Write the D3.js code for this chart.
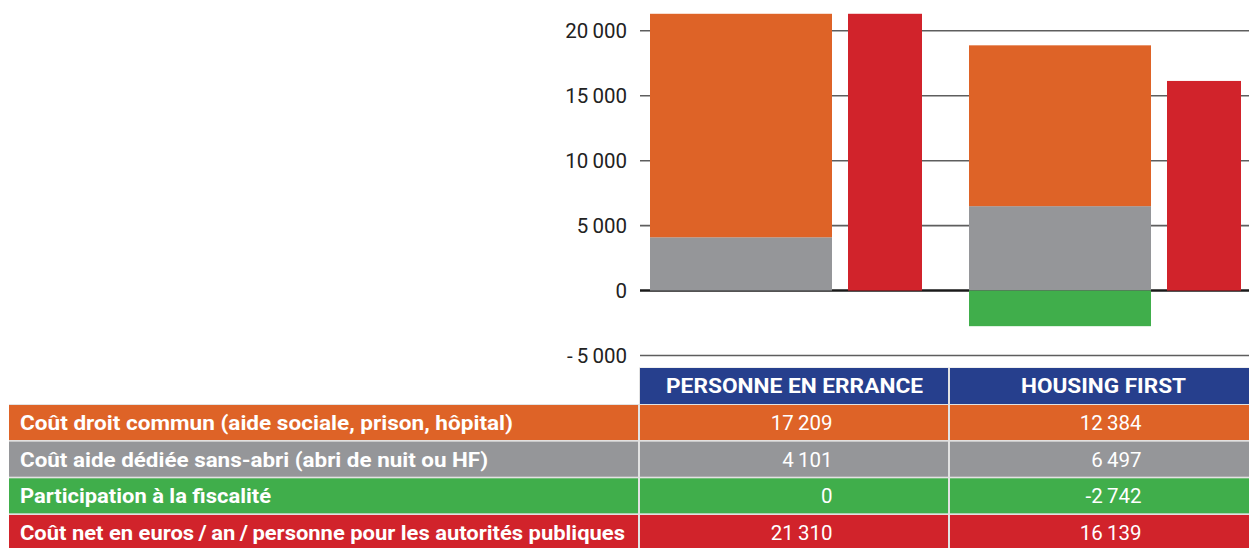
<!DOCTYPE html>
<html>
<meta charset="utf-8">
<head>
<style>
body { margin:0; padding:0; background:#fff; }
svg { display:block; }
text { font-family: Roboto, "Noto Sans", sans-serif; }
.lbl { fill:#fff; font-weight:bold; font-size:20.5px; }
.num { fill:#fff; font-size:20.5px; }
.tick { fill:#222; font-size:20.5px; }
</style>
</head>
<body>
<svg></svg>
<script src="https://d3js.org/d3.v7.min.js"></script>
<script>

// data
var groups = ["PERSONNE EN ERRANCE", "HOUSING FIRST"];
var rowLabels = [
  "Coût droit commun (aide sociale, prison, hôpital)",
  "Coût aide dédiée sans-abri (abri de nuit ou HF)",
  "Participation à la fiscalité",
  "Coût net en euros\u2009/\u2009an\u2009/\u2009personne pour les autorités publiques"
];
var droitCommun = [17209, 12384];
var aideDediee  = [4101, 6497];
var fiscalite   = [0, -2742];
var coutNet     = [21310, 16139];
var yTicks = [-5000, 0, 5000, 10000, 15000, 20000];

var colors = ["#de6327", "#959699", "#40ae4b", "#d1232b"];
var navy = "#263f8d";

var width = 1249, height = 548;
var svg = d3.select("svg").attr("width", width).attr("height", height);

var fr = d3.formatLocale({decimal: ",", thousands: "\u2009", grouping: [3], currency: ["", " €"], minus: "-"});
var fmt = fr.format(",d");

var y = d3.scaleLinear().domain([-5000, 20000]).range([355.5, 30.8]);
var x0 = d3.scaleBand().domain(groups).range([650, 1288]);
var tx = d3.scaleBand().domain(groups).range([640, 1258]);

// grid
svg.append("g").selectAll("line").data(yTicks).enter().append("line")
  .attr("x1", 640).attr("x2", width)
  .attr("y1", function(d) { return y(d); }).attr("y2", function(d) { return y(d); })
  .attr("stroke", function(d) { return d === 0 ? "#1a1a1a" : "#5e5e5e"; })
  .attr("stroke-width", function(d) { return d === 0 ? 2.5 : 1.6; });

svg.append("g").selectAll("text").data(yTicks).enter().append("text")
  .attr("class", "tick")
  .attr("x", 627).attr("y", function(d) { return y(d); })
  .attr("dy", "0.36em").attr("text-anchor", "end")
  .text(function(d) { return d < 0 ? "-\u2009" + fmt(-d) : fmt(d); });

// bars
var stackW = 182, netOff = 198, netW = 74;
var segs = [];
groups.forEach(function(g, i) {
  segs.push({g: g, y0: 0, y1: aideDediee[i], c: colors[1], x: x0(g), w: stackW});
  segs.push({g: g, y0: aideDediee[i], y1: aideDediee[i] + droitCommun[i], c: colors[0], x: x0(g), w: stackW});
  if (fiscalite[i] !== 0) segs.push({g: g, y0: fiscalite[i], y1: 0, c: colors[2], x: x0(g), w: stackW});
  segs.push({g: g, y0: 0, y1: coutNet[i], c: colors[3], x: x0(g) + netOff, w: netW});
});

svg.append("g").selectAll("rect").data(segs).enter().append("rect")
  .attr("x", function(d) { return d.x; })
  .attr("width", function(d) { return d.w; })
  .attr("y", function(d) { return y(d.y1); })
  .attr("height", function(d) { return y(d.y0) - y(d.y1); })
  .attr("fill", function(d) { return d.c; });

// table
var rowY = d3.scaleBand().domain(rowLabels).range([405, 550]).paddingInner(0.045).paddingOuter(0);
var headY = 368, headH = 36;
var gap = "#e2e2e2";

svg.append("rect").attr("x", 639).attr("y", headY - 0.5).attr("width", width - 639).attr("height", headH + 1).attr("fill", gap);
svg.append("rect").attr("x", 9).attr("y", 404).attr("width", width - 9).attr("height", height - 404).attr("fill", gap);

svg.append("g").selectAll("rect").data(groups).enter().append("rect")
  .attr("x", function(d, i) { return tx(d) + (i === 0 ? 0 : 1); })
  .attr("width", function(d) { return tx.bandwidth() - 1; })
  .attr("y", headY).attr("height", headH)
  .attr("fill", navy);

var headTextW = [257, 165];
svg.append("g").selectAll("text").data(groups).enter().append("text")
  .attr("class", "lbl")
  .attr("x", function(d) { return tx(d) + tx.bandwidth() / 2; })
  .attr("y", headY + headH / 2).attr("dy", "0.36em")
  .attr("text-anchor", "middle")
  .attr("textLength", function(d, i) { return headTextW[i]; })
  .attr("lengthAdjust", "spacingAndGlyphs")
  .text(function(d) { return d; });

var rows = rowLabels.map(function(l, i) {
  return {label: l, color: colors[i], vals: [droitCommun, aideDediee, fiscalite, coutNet][i]};
});
var labelW = [493, 468, 251, 605];

var row = svg.append("g").selectAll("g").data(rows).enter().append("g")
  .attr("transform", function(d) { return "translate(0," + rowY(d.label) + ")"; });

row.append("rect")
  .attr("x", 9).attr("width", 629)
  .attr("height", rowY.bandwidth())
  .attr("fill", function(d) { return d.color; });

row.selectAll("rect.cell").data(function(d) { return groups.map(function(g, i) { return {g: g, i: i, c: d.color}; }); })
  .enter().append("rect").attr("class", "cell")
  .attr("x", function(d) { return tx(d.g) + (d.i === 0 ? 0 : 1); })
  .attr("width", function(d) { return tx.bandwidth() - 1; })
  .attr("height", rowY.bandwidth())
  .attr("fill", function(d) { return d.c; });

row.append("text").attr("class", "lbl")
  .attr("x", 20).attr("y", rowY.bandwidth() / 2).attr("dy", "0.36em")
  .attr("textLength", function(d, i) { return labelW[i]; })
  .attr("lengthAdjust", "spacingAndGlyphs")
  .text(function(d) { return d.label; });

row.selectAll("text.num").data(function(d) { return d.vals.map(function(v, i) { return {v: v, g: groups[i]}; }); })
  .enter().append("text").attr("class", "num")
  .attr("x", function(d) { return tx(d.g) + tx.bandwidth() * 0.623; })
  .attr("y", rowY.bandwidth() / 2).attr("dy", "0.36em")
  .attr("text-anchor", "end")
  .text(function(d) { return fmt(d.v); });

</script>
</body>
</html>
